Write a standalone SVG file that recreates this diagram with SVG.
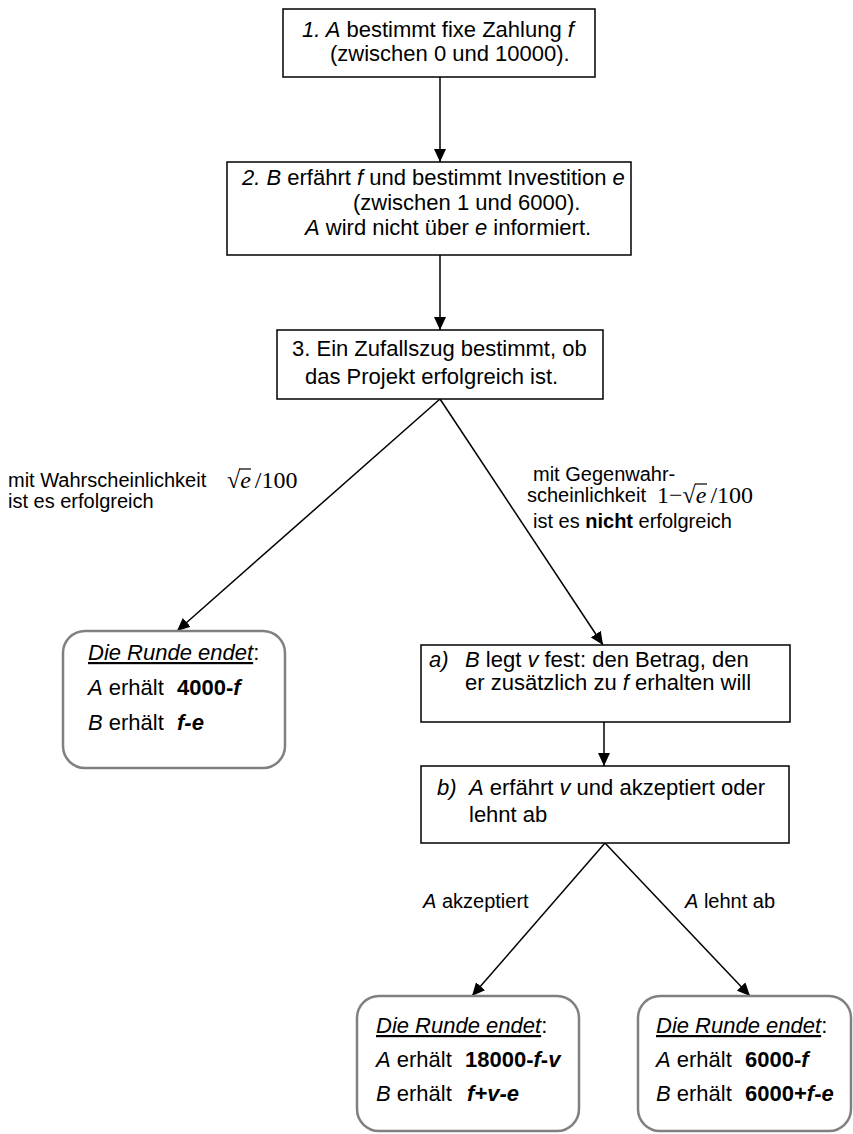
<svg xmlns="http://www.w3.org/2000/svg" width="853" height="1134" viewBox="0 0 853 1134">
<style>
.box{fill:#fff;stroke:#000;stroke-width:1.5}
.end{fill:#fff;stroke:#808080;stroke-width:2.5}
text{font-family:"Liberation Sans",Arial,sans-serif;font-size:22px;fill:#000}
.lbl{font-size:20px}
.i{font-style:italic}
.b{font-weight:bold}
.u{text-decoration:underline}
.m{font-family:"Liberation Serif","Times New Roman",serif;font-size:24px}
.bar{stroke:#000;stroke-width:1.2}
.conn line{stroke:#000;stroke-width:1.5;marker-end:url(#ah)}
</style>
<defs>
<marker id="ah" markerUnits="userSpaceOnUse" markerWidth="14" markerHeight="12" refX="13" refY="6" orient="auto">
<path d="M0,0 L13,6 L0,12 Z" fill="#000"/>
</marker>
</defs>
<rect width="853" height="1134" fill="#fff"/>
<g id="connectors" class="conn">
<line x1="440" y1="77" x2="440" y2="162"/>
<line x1="440" y1="255" x2="440" y2="330"/>
<line x1="440" y1="399" x2="177" y2="631"/>
<line x1="440" y1="399" x2="603" y2="645"/>
<line x1="604" y1="722" x2="604" y2="766"/>
<line x1="605" y1="843" x2="472" y2="996"/>
<line x1="605" y1="843" x2="750" y2="996"/>
</g>
<g id="n1">
<rect class="box" x="283" y="9" width="312" height="68"/>
<text x="302" y="37"><tspan class="i">1. A</tspan> bestimmt fixe Zahlung <tspan class="i">f</tspan></text>
<text x="330" y="61">(zwischen 0 und 10000).</text>
</g>
<g id="n2">
<rect class="box" x="227" y="162" width="404" height="93"/>
<text x="242" y="185"><tspan class="i">2. B</tspan> erfährt <tspan class="i">f</tspan> und bestimmt Investition <tspan class="i">e</tspan></text>
<text x="353" y="210">(zwischen 1 und 6000).</text>
<text x="305" y="235"><tspan class="i">A</tspan> wird nicht über <tspan class="i">e</tspan> informiert.</text>
</g>
<g id="n3">
<rect class="box" x="277" y="330" width="326" height="69"/>
<text x="292" y="356">3. Ein Zufallszug bestimmt, ob</text>
<text x="305" y="384">das Projekt erfolgreich ist.</text>
</g>
<g id="label-success">
<text class="lbl" x="8" y="487">mit Wahrscheinlichkeit</text>
<text class="m" x="227" y="488">√<tspan class="i">e</tspan><tspan dx="4">/100</tspan></text>
<line class="bar" x1="239" y1="469" x2="251" y2="469"/>
<text class="lbl" x="8" y="508">ist es erfolgreich</text>
</g>
<g id="label-fail">
<text class="lbl" x="533" y="481">mit Gegenwahr-</text>
<text class="lbl" x="527" y="502">scheinlichkeit</text>
<text class="m" x="657" y="503">1−√<tspan class="i">e</tspan><tspan dx="4">/100</tspan></text>
<line class="bar" x1="695" y1="484" x2="707" y2="484"/>
<text class="lbl" x="533" y="528">ist es <tspan class="b">nicht</tspan> erfolgreich</text>
</g>
<g id="end1">
<rect class="end" x="63" y="631" width="222" height="137" rx="22"/>
<text x="88" y="660"><tspan class="i u">Die Runde endet</tspan>:</text>
<text x="88" y="695"><tspan class="i">A</tspan> erhält</text>
<text x="177" y="695" class="b">4000-<tspan class="i">f</tspan></text>
<text x="88" y="730"><tspan class="i">B</tspan> erhält</text>
<text x="177" y="730" class="b i">f-e</text>
</g>
<g id="na">
<rect class="box" x="421" y="645" width="369" height="77"/>
<text x="429" y="667"><tspan class="i">a)</tspan></text>
<text x="465" y="667"><tspan class="i">B</tspan> legt <tspan class="i">v</tspan> fest: den Betrag, den</text>
<text x="465" y="690">er zusätzlich zu <tspan class="i">f</tspan> erhalten will</text>
</g>
<g id="nb">
<rect class="box" x="421" y="766" width="368" height="77"/>
<text x="437" y="795"><tspan class="i">b)</tspan></text>
<text x="469" y="795"><tspan class="i">A</tspan> erfährt <tspan class="i">v</tspan> und akzeptiert oder</text>
<text x="469" y="822">lehnt ab</text>
</g>
<g id="label-accept">
<text class="lbl" x="423" y="908"><tspan class="i">A</tspan> akzeptiert</text>
</g>
<g id="label-reject">
<text class="lbl" x="685" y="908"><tspan class="i">A</tspan> lehnt ab</text>
</g>
<g id="end2">
<rect class="end" x="357" y="996" width="222" height="135" rx="22"/>
<text x="376" y="1033"><tspan class="i u">Die Runde endet</tspan>:</text>
<text x="376" y="1067"><tspan class="i">A</tspan> erhält</text>
<text x="465" y="1067" class="b">18000-<tspan class="i">f</tspan>-<tspan class="i">v</tspan></text>
<text x="376" y="1101"><tspan class="i">B</tspan> erhält</text>
<text x="467" y="1101" class="b i">f+v-e</text>
</g>
<g id="end3">
<rect class="end" x="638" y="996" width="213" height="135" rx="22"/>
<text x="656" y="1033"><tspan class="i u">Die Runde endet</tspan>:</text>
<text x="656" y="1067"><tspan class="i">A</tspan> erhält</text>
<text x="745" y="1067" class="b">6000-<tspan class="i">f</tspan></text>
<text x="656" y="1101"><tspan class="i">B</tspan> erhält</text>
<text x="745" y="1101" class="b">6000+<tspan class="i">f</tspan>-<tspan class="i">e</tspan></text>
</g>
</svg>
